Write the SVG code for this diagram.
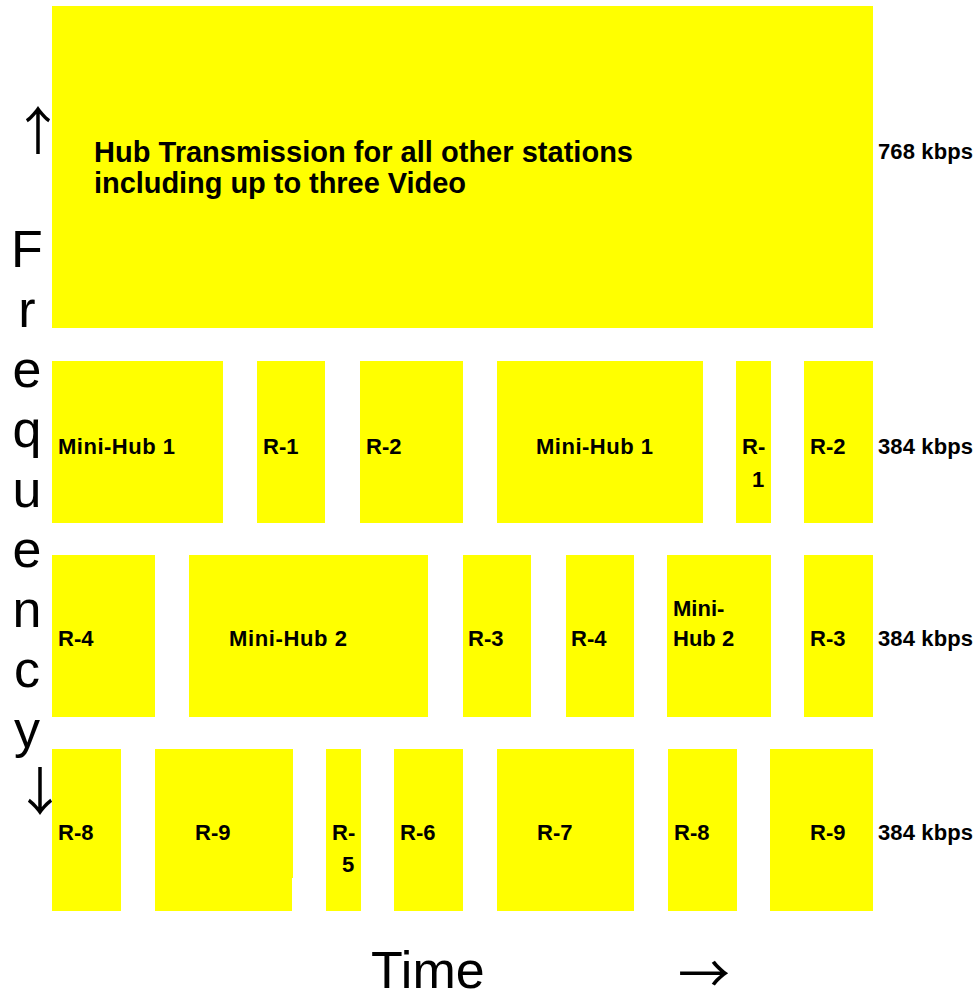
<svg xmlns="http://www.w3.org/2000/svg" width="980" height="994" viewBox="0 0 980 994">
<style>
.blk{fill:#ffff00;stroke:none}
.lb{font-family:"Liberation Sans",Arial,sans-serif;font-weight:bold;font-size:22px;fill:#000}
.hub{font-family:"Liberation Sans",Arial,sans-serif;font-weight:bold;font-size:29px;fill:#000}
.ax{font-family:"Liberation Sans",Arial,sans-serif;font-size:52px;fill:#000}
.ar{font-family:"Noto Sans CJK JP","DejaVu Sans",sans-serif;font-size:52px;fill:#000}
</style>
<rect width="980" height="994" fill="#fff"/>
<g id="hub"><rect class="blk" x="52" y="6" width="821" height="322"/>
<text class="hub" x="94" y="162" textLength="539">Hub Transmission for all other stations</text>
<text class="hub" x="94" y="193" textLength="372">including up to three Video</text></g>
<text class="lb" x="878" y="159" textLength="95">768 kbps</text>
<g id="row1">
<g id="r1a"><rect class="blk" x="52" y="361" width="171" height="162"/><text class="lb" x="58" y="454" textLength="117">Mini-Hub 1</text></g>
<g id="r1b"><rect class="blk" x="257" y="361" width="68" height="162"/><text class="lb" x="263" y="454">R-1</text></g>
<g id="r1c"><rect class="blk" x="360" y="361" width="103" height="162"/><text class="lb" x="366" y="454">R-2</text></g>
<g id="r1d"><rect class="blk" x="497" y="361" width="206" height="162"/><text class="lb" x="536" y="454" textLength="117">Mini-Hub 1</text></g>
<g id="r1e"><rect class="blk" x="736" y="361" width="35" height="162"/><text class="lb" x="742" y="454">R-</text><text class="lb" x="752" y="487">1</text></g>
<g id="r1f"><rect class="blk" x="804" y="361" width="69" height="162"/><text class="lb" x="810" y="454">R-2</text></g>
<text class="lb" x="878" y="454" textLength="95">384 kbps</text>
</g>
<g id="row2">
<g id="r2a"><rect class="blk" x="52" y="555" width="103" height="162"/><text class="lb" x="58" y="646">R-4</text></g>
<g id="r2b"><rect class="blk" x="189" y="555" width="239" height="162"/><text class="lb" x="229" y="646" textLength="118">Mini-Hub 2</text></g>
<g id="r2c"><rect class="blk" x="463" y="555" width="68" height="162"/><text class="lb" x="468" y="646">R-3</text></g>
<g id="r2d"><rect class="blk" x="566" y="555" width="68" height="162"/><text class="lb" x="571" y="646">R-4</text></g>
<g id="r2e"><rect class="blk" x="667" y="555" width="104" height="162"/><text class="lb" x="673" y="616">Mini-</text><text class="lb" x="673" y="646">Hub 2</text></g>
<g id="r2f"><rect class="blk" x="804" y="555" width="69" height="162"/><text class="lb" x="810" y="646">R-3</text></g>
<text class="lb" x="878" y="646" textLength="95">384 kbps</text>
</g>
<g id="row3">
<g id="r3a"><rect class="blk" x="52" y="749" width="69" height="162"/><text class="lb" x="58" y="840">R-8</text></g>
<g id="r3b"><rect class="blk" x="155" y="749" width="138" height="129"/><rect class="blk" x="155" y="877" width="137" height="34"/><text class="lb" x="195" y="840">R-9</text></g>
<g id="r3c"><rect class="blk" x="326" y="749" width="35" height="162"/><text class="lb" x="332" y="840">R-</text><text class="lb" x="342" y="872">5</text></g>
<g id="r3d"><rect class="blk" x="394" y="749" width="69" height="162"/><text class="lb" x="400" y="840">R-6</text></g>
<g id="r3e"><rect class="blk" x="497" y="749" width="137" height="162"/><text class="lb" x="537" y="840">R-7</text></g>
<g id="r3f"><rect class="blk" x="668" y="749" width="69" height="162"/><text class="lb" x="674" y="840">R-8</text></g>
<g id="r3g"><rect class="blk" x="770" y="749" width="103" height="162"/><text class="lb" x="810" y="840">R-9</text></g>
<text class="lb" x="878" y="840" textLength="95">384 kbps</text>
</g>
<g id="axis-freq">
<text class="ar" x="38" y="127" text-anchor="middle" dominant-baseline="central">↑</text>
<text class="ax" x="27" y="267" text-anchor="middle">F</text>
<text class="ax" x="27" y="327" text-anchor="middle">r</text>
<text class="ax" x="27" y="387" text-anchor="middle">e</text>
<text class="ax" x="27" y="447" text-anchor="middle">q</text>
<text class="ax" x="27" y="507" text-anchor="middle">u</text>
<text class="ax" x="27" y="567" text-anchor="middle">e</text>
<text class="ax" x="27" y="627" text-anchor="middle">n</text>
<text class="ax" x="27" y="687" text-anchor="middle">c</text>
<text class="ax" x="27" y="747" text-anchor="middle">y</text>
<text class="ar" x="40" y="788" text-anchor="middle" dominant-baseline="central">↓</text>
</g>
<g id="axis-time">
<text class="ax" x="371" y="988">Time</text>
<text class="ar" x="704" y="970" text-anchor="middle" dominant-baseline="central">→</text>
</g>
</svg>
